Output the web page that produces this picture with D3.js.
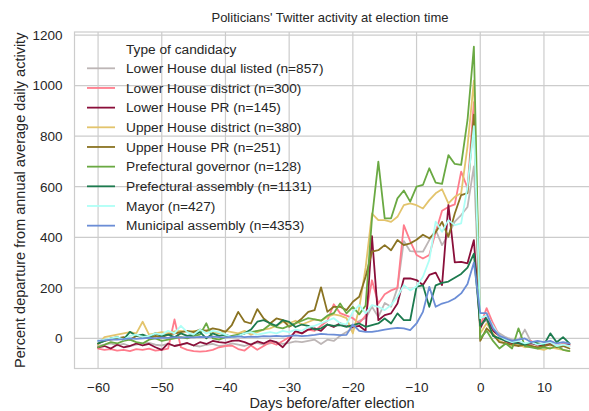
<!DOCTYPE html>
<html>
<head>
<meta charset="utf-8">
<script src="https://cdn.jsdelivr.net/npm/d3@7"></script>
<style>
  body { margin: 0; background: #fff; }
  svg { display: block; font-family: "Liberation Sans", Arial, sans-serif; }
</style>
</head>
<body>
<svg id="chart" width="589" height="411"></svg>
<script>
// Days relative to election day
const days = [-60,-59,-58,-57,-56,-55,-54,-53,-52,-51,-50,-49,-48,-47,-46,-45,-44,-43,-42,-41,
  -40,-39,-38,-37,-36,-35,-34,-33,-32,-31,-30,-29,-28,-27,-26,-25,-24,-23,-22,-21,
  -20,-19,-18,-17,-16,-15,-14,-13,-12,-11,-10,-9,-8,-7,-6,-5,-4,-3,-2,-1,
  0,1,2,3,4,5,6,7,8,9,10,11,12,13,14];

// Percent departure from annual average daily activity, one array per candidacy type
const lowerDualListed = [-30,-25,-20,-28,-22,-30,-25,-20,-18,-25,-28,-22,-30,-25,-20,-28,-32,-25,-22,-30,
  -28,-20,-25,-30,-22,-18,-25,-20,-15,-22,-18,-12,-15,-10,-5,-22,-5,-10,10,25,
  40,70,80,125,85,140,125,200,385,345,343,343,389,429,369,409,462,488,520,680,
  60,70,40,20,5,-5,-10,35,-15,-20,-25,-20,-30,-25,-30];
const lowerDistrict = [-40,-45,-42,-48,-45,-50,-42,-45,-40,-48,-45,-40,75,-35,-45,-50,-52,-50,-45,-35,
  -30,-28,-42,-48,-28,-45,-30,-15,-25,-10,5,25,20,35,30,50,70,135,100,90,
  80,60,90,230,138,175,190,200,448,385,330,316,330,420,505,520,530,660,595,935,
  50,120,60,10,-15,-25,-20,-30,-10,-30,-25,-15,-30,-20,-25];
const lowerPR = [-35,-30,-40,-25,-35,-30,-20,-28,-22,-35,-45,-20,-30,-25,-18,-28,-15,-22,-10,-15,
  -18,-10,-8,-15,-25,-12,-20,-8,-15,-35,-5,30,20,35,40,30,55,45,60,50,
  45,50,30,405,72,92,99,138,237,237,231,211,251,260,211,528,301,303,297,389,
  40,90,30,10,-10,-20,-15,-25,-20,-25,-30,-20,-35,-30,-25];
const upperDistrict = [-25,5,10,15,20,25,20,66,15,20,25,20,28,30,25,30,28,32,25,20,
  30,25,20,30,15,25,35,40,50,65,60,70,55,65,75,70,85,95,90,80,
  20,120,280,494,468,468,461,481,527,534,527,514,547,574,590,534,560,574,760,1020,
  20,60,20,-10,-20,-30,-25,-35,-30,-40,-45,-35,-40,-45,-50];
const upperPR = [-20,-10,-5,0,5,-5,10,5,0,10,5,15,20,25,30,25,35,30,40,35,
  26,53,105,66,59,116,79,59,79,72,46,59,79,105,112,202,105,125,125,112,
  145,165,244,343,349,369,349,389,369,376,390,410,396,420,461,402,494,567,575,885,
  -10,40,15,-15,-20,-25,-30,-25,-30,-35,-30,-25,-35,-30,-40];
const prefGovernor = [-35,-25,-15,-20,-10,-5,-15,-20,-5,0,-10,-5,0,5,0,10,15,60,0,-5,
  5,10,15,20,25,30,35,55,45,40,50,60,70,80,75,70,90,100,138,99,
  125,95,130,475,699,475,475,554,585,541,600,607,673,616,611,725,690,686,864,1154,
  0,30,-10,-40,-20,-40,40,-30,-35,-40,-35,-40,-30,-45,-50];
const prefAssembly = [-20,-10,0,5,-5,26,10,15,5,20,10,15,5,20,10,15,25,0,20,10,
  15,5,10,20,35,66,72,60,50,72,65,45,55,50,35,40,55,50,53,46,
  53,59,46,53,59,79,59,99,72,72,205,210,125,210,220,225,240,255,280,335,
  50,80,10,0,-10,-15,-20,-25,-15,-20,-25,20,-15,5,-20];
const mayor = [-10,-5,0,5,-5,10,15,5,10,20,15,30,20,50,25,15,35,20,30,25,
  15,5,10,20,25,15,20,25,20,30,25,35,30,45,50,60,70,80,60,55,
  105,132,99,132,125,112,132,165,211,190,205,244,310,462,422,468,448,455,600,840,
  80,90,50,10,-5,-15,-10,-20,-15,-25,-20,-15,-30,-25,-30];
const municipalAssembly = [-10,-8,-5,-5,-3,0,-2,0,2,0,3,2,5,3,5,4,6,5,7,5,
  4,6,8,5,7,6,9,8,10,8,10,12,9,11,14,18,16,15,13,14,
  55,30,26,26,30,35,39,42,40,33,59,105,204,125,138,145,158,178,215,300,
  100,100,40,10,0,-10,-5,0,-15,-10,-15,-10,-20,-15,-20];

const seriesNames = [
  "Lower House dual listed (n=857)",
  "Lower House district (n=300)",
  "Lower House PR (n=145)",
  "Upper House district (n=380)",
  "Upper House PR (n=251)",
  "Prefectural governor (n=128)",
  "Prefectural assembly (n=1131)",
  "Mayor (n=427)",
  "Municipal assembly (n=4353)"
];
const seriesValues = [lowerDualListed, lowerDistrict, lowerPR, upperDistrict, upperPR,
  prefGovernor, prefAssembly, mayor, municipalAssembly];
const seriesColors = ["#bdb6b6", "#ff7c8c", "#8a0f3a", "#e3c46c", "#8a7322",
  "#6aa943", "#1c7a4e", "#aefff6", "#6b8dd6"];

const xTicks = [-60, -50, -40, -30, -20, -10, 0, 10];
const yTicks = [0, 200, 400, 600, 800, 1000, 1200];

const titleText = "Politicians' Twitter activity at election time";
const xLabel = "Days before/after election";
const yLabel = "Percent departure from annual average daily activity";
const legendTitle = "Type of candidacy";

const svg = d3.select("#chart");
const plot = { left: 74.5, top: 32, right: 593, bottom: 368.5 };

const x = d3.scaleLinear().domain([-63.7, 17.7]).range([plot.left, plot.right]);
const y = d3.scaleLinear().domain([-119, 1212]).range([plot.bottom, plot.top]);

const gridColor = "#cccccc";
const textColor = "#262626";
const fontFamily = "Liberation Sans, Arial, sans-serif";

// Grid
const grid = svg.append("g");
grid.selectAll("line.vx").data(xTicks).join("line")
  .attr("x1", d => x(d)).attr("x2", d => x(d))
  .attr("y1", plot.top).attr("y2", plot.bottom)
  .attr("stroke", gridColor).attr("stroke-width", 1.2);
grid.selectAll("line.hy").data(yTicks).join("line")
  .attr("x1", plot.left).attr("x2", plot.right)
  .attr("y1", d => y(d)).attr("y2", d => y(d))
  .attr("stroke", gridColor).attr("stroke-width", 1.2);

// Frame
svg.append("rect")
  .attr("x", plot.left).attr("y", plot.top)
  .attr("width", plot.right - plot.left).attr("height", plot.bottom - plot.top)
  .attr("fill", "none").attr("stroke", gridColor).attr("stroke-width", 1.2);

// Axes (labels only, no tick marks)
const xAxis = svg.append("g")
  .attr("transform", `translate(0,${plot.bottom})`)
  .call(d3.axisBottom(x).tickValues(xTicks).tickFormat(d3.format("d")).tickSize(0).tickPadding(14));
xAxis.select(".domain").remove();
xAxis.selectAll("text").attr("font-size", 13.5).attr("fill", textColor)
  .attr("font-family", fontFamily);

const yAxis = svg.append("g")
  .attr("transform", `translate(${plot.left},0)`)
  .call(d3.axisLeft(y).tickValues(yTicks).tickFormat(d3.format("d")).tickSize(0).tickPadding(12));
yAxis.select(".domain").remove();
yAxis.selectAll("text").attr("font-size", 13.5).attr("fill", textColor)
  .attr("font-family", fontFamily);

// Lines
const line = d3.line().x((d, i) => x(days[i])).y(d => y(d));
svg.append("g").selectAll("path").data(seriesValues).join("path")
  .attr("d", d => line(d))
  .attr("fill", "none")
  .attr("stroke", (d, i) => seriesColors[i])
  .attr("stroke-width", 1.8)
  .attr("stroke-linejoin", "round")
  .attr("stroke-linecap", "round");

// Title and axis labels
svg.append("text").attr("x", 330).attr("y", 22).attr("text-anchor", "middle")
  .attr("font-size", 13).attr("fill", textColor).text(titleText);
svg.append("text").attr("x", 332).attr("y", 408).attr("text-anchor", "middle")
  .attr("font-size", 14.5).attr("fill", textColor).text(xLabel);
svg.append("text")
  .attr("transform", `translate(25,${(plot.top + plot.bottom) / 2}) rotate(-90)`)
  .attr("text-anchor", "middle").attr("font-size", 14.5).attr("fill", textColor).text(yLabel);

// Legend
const legend = svg.append("g");
legend.append("text").attr("x", 126).attr("y", 49).attr("dy", "0.35em")
  .attr("font-size", 13.7).attr("fill", textColor).text(legendTitle);
const rows = legend.selectAll("g.row").data(seriesNames).join("g")
  .attr("transform", (d, i) => `translate(0,${68.3 + i * 19.67})`);
rows.append("line").attr("x1", 87).attr("x2", 115).attr("y1", 0).attr("y2", 0)
  .attr("stroke", (d, i) => seriesColors[i]).attr("stroke-width", 1.8);
rows.append("text").attr("x", 126).attr("y", 0).attr("dy", "0.35em")
  .attr("font-size", 13.7).attr("fill", textColor).text(d => d);
</script>
</body>
</html>
